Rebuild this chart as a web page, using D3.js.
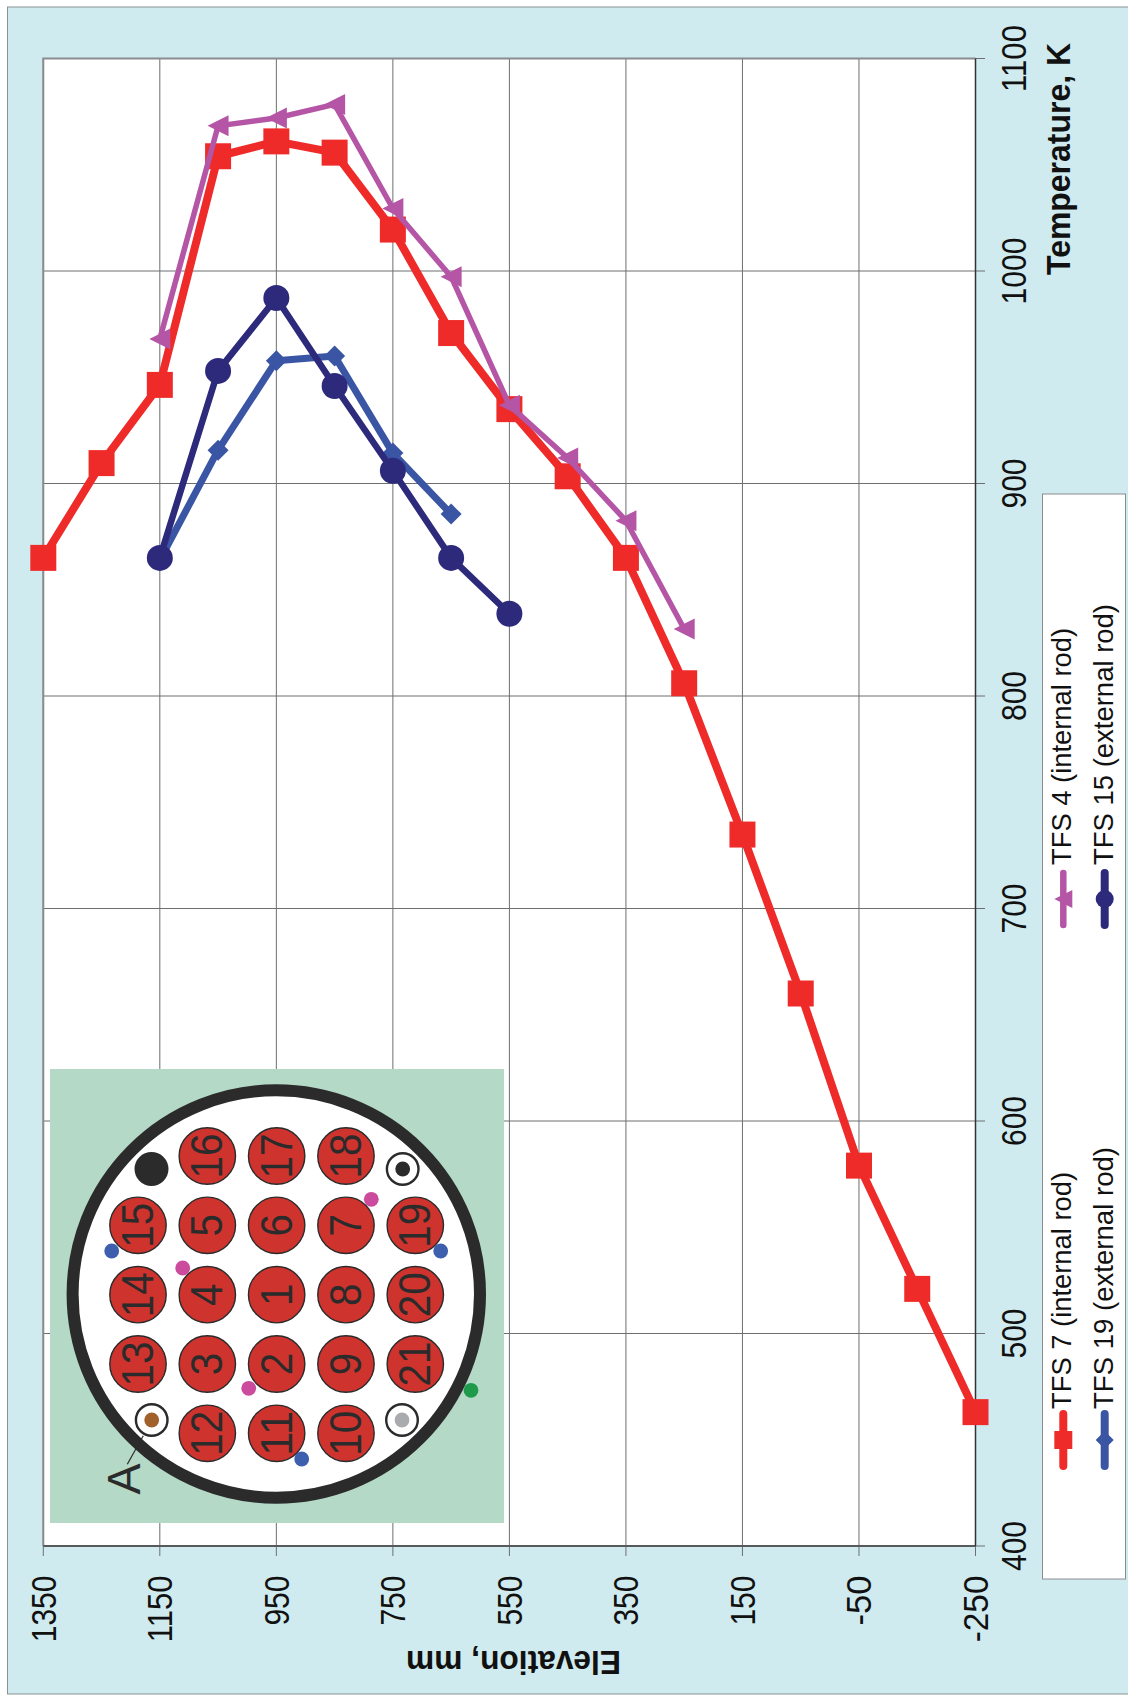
<!DOCTYPE html>
<html><head><meta charset="utf-8">
<script src="https://cdn.jsdelivr.net/npm/d3@7"></script>
<style>html,body{margin:0;padding:0;background:#fff;overflow:hidden}svg{display:block}text{font-family:"Liberation Sans",Arial,sans-serif}</style>
</head><body><div id="c"></div>
<script>
const elevations7=[1350,1250,1150,1050,950,850,750,650,550,450,350,250,150,50,-50,-150,-250];
const tfs7=[865,909.6,946.4,1054,1061,1055.7,1019.5,970.8,935,903.4,865,806,734.8,660,579,521,463];
const elevations4=[1150,1050,950,850,750,650,550,450,350,250];
const tfs4=[968,1068.3,1072,1078.4,1029.4,997.3,936.8,912,882.5,831.5];
const elevations19=[1150,1050,950,850,750,650];
const tfs19=[864,915.7,957.8,960,914.3,885.6];
const elevations15=[1150,1050,950,850,750,650,550];
const tfs15=[865,953,987.3,945.9,906,865,838.7];
const elevationTicks=[1350,1150,950,750,550,350,150,-50,-250];
const temperatureTicks=[400,500,600,700,800,900,1000,1100];
const rodRows=[[null,16,17,18,null],[15,5,6,7,19],[14,4,1,8,20],[13,3,2,9,21],[null,12,11,10,null]];

const W=1128,H=1697;
const svg=d3.select("#c").append("svg").attr("width",W).attr("height",H);
svg.append("rect").attr("x",7.5).attr("y",7).attr("width",W).attr("height",H-10).attr("fill","#cfebef").attr("stroke","#8a9193").attr("stroke-width",1);

const x=d3.scaleLinear().domain([1350,-250]).range([43.3,975.5]);
const y=d3.scaleLinear().domain([400,1100]).range([1546,58.5]);
svg.append("rect").attr("x",x(1350)).attr("y",y(1100)).attr("width",x(-250)-x(1350)).attr("height",y(400)-y(1100)).attr("fill","#fff");

const grid=svg.append("g").attr("stroke","#6d6e71").attr("stroke-width",1);
grid.selectAll(".v").data(elevationTicks).join("line").attr("x1",d=>x(d)).attr("x2",d=>x(d)).attr("y1",y(1100)).attr("y2",y(400)+10);
grid.selectAll(".h").data(temperatureTicks).join("line").attr("y1",d=>y(d)).attr("y2",d=>y(d)).attr("x1",x(1350)).attr("x2",x(-250)+9.5);
const frame=svg.append("g").attr("fill","none");
frame.append("path").attr("d",`M${x(1350)},${y(400)}V${y(1100)}H${x(-250)}`).attr("stroke","#8a8c8e").attr("stroke-width",2);
frame.append("path").attr("d",`M${x(1350)},${y(400)}H${x(-250)}`).attr("stroke","#58595b").attr("stroke-width",2);
frame.append("path").attr("d",`M${x(-250)},${y(400)}V${y(1100)}`).attr("stroke","#333").attr("stroke-width",1.5);

function vtext(g,s,px,py,size,len,opts={}){
  return g.append("text").attr("transform",`translate(${px},${py}) rotate(${opts.rot==null?-90:opts.rot})`)
    .attr("font-size",size).attr("font-weight",opts.bold?"bold":"normal").attr("fill",opts.fill||"#111")
    .attr("text-anchor",opts.anchor||"middle").attr("dominant-baseline","central")
    .attr("textLength",len).attr("lengthAdjust","spacingAndGlyphs").text(s);
}
const labels=svg.append("g");
elevationTicks.forEach(d=>{
  const s=String(d); const len=s.length*16.7;
  labels.append("text").attr("transform",`translate(${x(d)},1575.5) rotate(-90)`)
    .attr("font-size",35).attr("text-anchor","end").attr("dominant-baseline","central").attr("fill","#111")
    .attr("textLength",len).attr("lengthAdjust","spacingAndGlyphs").text(s);
});
temperatureTicks.forEach(d=>vtext(labels,String(d),1013,y(d),35,String(d).length*16.7));
vtext(labels,"Temperature, K",1058,159,33,232,{bold:true});
vtext(labels,"Elevation, mm",513.5,1662,33,215,{bold:true,rot:180});

// inset
const ins=svg.append("g");
ins.append("rect").attr("x",50).attr("y",1069).attr("width",454).attr("height",454).attr("fill","#b4d9c7");
const cx=276.3,cy=1294;
ins.append("circle").attr("cx",cx).attr("cy",cy).attr("r",203.7).attr("fill","#fff").attr("stroke","#2b2b2b").attr("stroke-width",12);
const rodX=d3.scalePoint().domain(d3.range(5)).range([138,415.3]);
const rodY=d3.scalePoint().domain(d3.range(5)).range([1156,1433.3]);
rodRows.forEach((row,i)=>row.forEach((n,j)=>{
  if(n==null)return;
  ins.append("circle").attr("cx",rodX(j)).attr("cy",rodY(i)).attr("r",28.2).attr("fill","#cf332e").attr("stroke","#2b2b2b").attr("stroke-width",1.4);
  vtext(ins,String(n),rodX(j)-0.5,rodY(i),44,String(n).length*22.5,{fill:"#2b2b2b"});
}));
const ring=(px,py,c)=>{
  ins.append("circle").attr("cx",px).attr("cy",py).attr("r",15.8).attr("fill","#fff").attr("stroke","#2b2b2b").attr("stroke-width",2.4);
  ins.append("circle").attr("cx",px).attr("cy",py).attr("r",7.4).attr("fill",c);
};
ins.append("circle").attr("cx",151.5).attr("cy",1169).attr("r",17).attr("fill","#2b2b2b");
ring(402.7,1169,"#2b2b2b");ring(151.7,1420,"#a0612a");ring(402,1420,"#a9abae");
const dot=(px,py,c)=>ins.append("circle").attr("cx",px).attr("cy",py).attr("r",7.4).attr("fill",c);
[[371.3,1199.3],[182.7,1268],[248.7,1388.3]].forEach(p=>dot(p[0],p[1],"#cb4b9c"));
[[111.7,1251],[440.7,1251],[301.7,1459]].forEach(p=>dot(p[0],p[1],"#3e5fae"));
dot(471,1390.3,"#1f9a4a");
ins.append("line").attr("x1",143.3).attr("y1",1435.7).attr("x2",127.3).attr("y2",1464.3).attr("stroke","#2b2b2b").attr("stroke-width",1.2);
vtext(ins,"A",124,1479,46,31,{fill:"#2b2b2b"});

// series
const line=d3.line().x(d=>x(d[0])).y(d=>y(d[1]));
const sym={
  square:s=>`M${-s},${-s}H${s}V${s}H${-s}Z`,
  tri:s=>`M${-s},0L${s},${-s}V${s}Z`,
  diamond:s=>`M${-s},0L0,${-s}L${s},0L0,${s}Z`,
  circle:s=>d3.arc()({innerRadius:0,outerRadius:s,startAngle:0,endAngle:7})
};
const series=[
 {name:"TFS 19 (external rod)",e:elevations19,t:tfs19,c:"#3b55a5",w:7,m:"diamond",s:10.5,ms:9,lw:8,lx:1104.7,ly:1440,tx:1103,ty:1409,tl:262},
 {name:"TFS 15 (external rod)",e:elevations15,t:tfs15,c:"#2d2a7b",w:6.5,m:"circle",s:13,ms:9,lw:8,lx:1104.7,ly:899,tx:1103,ty:865,tl:261},
 {name:"TFS 7 (internal rod)",e:elevations7,t:tfs7,c:"#ef2b2a",w:8,m:"square",s:13,ms:9,lw:8,lx:1063.3,ly:1440,tx:1061,ty:1409,tl:237},
 {name:"TFS 4 (internal rod)",e:elevations4,t:tfs4,c:"#b455a5",w:5.5,m:"tri",s:10.5,ms:9,lw:6.5,lx:1063.3,ly:899,tx:1061,ty:865,tl:237}
];
series.forEach(S=>{
  const pts=S.e.map((e,i)=>[e,S.t[i]]);
  svg.append("path").attr("d",line(pts)).attr("fill","none").attr("stroke",S.c).attr("stroke-width",S.w).attr("stroke-linejoin","round");
  svg.selectAll(null).data(pts).join("path").attr("d",sym[S.m](S.s)).attr("fill",S.c)
    .attr("transform",d=>`translate(${x(d[0])},${y(d[1])})`);
});
// legend
const lg=svg.append("g");
lg.append("rect").attr("x",1042.5).attr("y",494).attr("width",83).attr("height",1085).attr("fill","#fff").attr("stroke","#8a8c8e").attr("stroke-width",1);
series.forEach(S=>{
  lg.append("line").attr("x1",S.lx).attr("x2",S.lx).attr("y1",S.ly-26).attr("y2",S.ly+26).attr("stroke",S.c).attr("stroke-width",S.lw).attr("stroke-linecap","round");
  lg.append("path").attr("d",sym[S.m](S.ms)).attr("fill",S.c).attr("transform",`translate(${S.lx},${S.ly})`);
  lg.append("text").attr("transform",`translate(${S.tx},${S.ty}) rotate(-90)`).attr("font-size",28).attr("fill","#111")
    .attr("dominant-baseline","central").attr("textLength",S.tl).attr("lengthAdjust","spacingAndGlyphs").text(S.name);
});
</script></body></html>
